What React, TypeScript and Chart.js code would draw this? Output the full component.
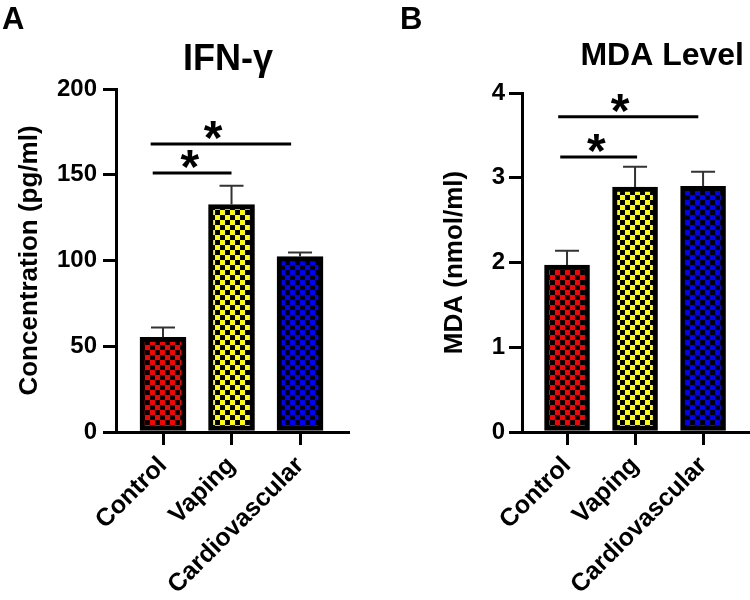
import React, { useEffect, useRef } from 'react';
import { Chart, registerables } from 'chart.js';

Chart.register(...registerables);

const FONT = "'Liberation Sans', Arial, Helvetica, sans-serif";

// ---- data ----
const CATEGORIES = ['Control', 'Vaping', 'Cardiovascular'];
const BAR_COLORS = ['#ff0000', '#ffff00', '#0000ff'];

const IFN_VALUES = [55.2, 132.6, 102.3];
const IFN_ERRORS = [5.8, 11.0, 2.4];
const IFN_TICKS = [0, 50, 100, 150, 200];
const IFN_SIG_Y = [168, 151];
const IFN_SIG_FROM = [-0.18, -0.15];
const IFN_SIG_TO = [1.87, 1.0];
const IFN_SIG_STAR = [0.73, 0.39];

const MDA_VALUES = [1.97, 2.89, 2.9];
const MDA_ERRORS = [0.17, 0.24, 0.17];
const MDA_TICKS = [0, 1, 2, 3, 4];
const MDA_SIG_Y = [3.72, 3.245];
const MDA_SIG_FROM = [-0.13, -0.1];
const MDA_SIG_TO = [1.93, 1.03];
const MDA_SIG_STAR = [0.78, 0.43];

function checker(color: string, cell = 5) {
  const c = document.createElement('canvas');
  c.width = cell * 2;
  c.height = cell * 2;
  const g = c.getContext('2d')!;
  g.fillStyle = '#000';
  g.fillRect(0, 0, cell * 2, cell * 2);
  g.fillStyle = color;
  g.fillRect(0, 0, cell, cell);
  g.fillRect(cell, cell, cell, cell);
  return g.createPattern(c, 'repeat')!;
}

type Panel = {
  letter: string;
  letterX: number;
  title: string;
  titleX: number;
  titleAlign: CanvasTextAlign;
  titleSize: number;
  titleBaseline: number;
  yTitle: string;
  values: number[];
  errors: number[];
  ticks: number[];
  sigY: number[];
  sigFrom: number[];
  sigTo: number[];
  sigStar: number[];
  xMin: number;
  xMax: number;
  barThickness: number;
  padding: { top: number; left: number; right: number; bottom: number };
  yWidth: number;
  xHeight: number;
  yTickPad: number;
};

function makePlugin(p: Panel) {
  return {
    id: 'annot_' + p.letter,
    afterDatasetsDraw(chart: any) {
      const { ctx } = chart;
      const x = chart.scales.x;
      const y = chart.scales.y;
      ctx.save();
      // error bars (upper only)
      ctx.strokeStyle = '#333';
      ctx.lineWidth = 2;
      p.values.forEach((v, i) => {
        const px = x.getPixelForValue(i);
        const y0 = y.getPixelForValue(v);
        const y1 = y.getPixelForValue(v + p.errors[i]);
        ctx.beginPath();
        ctx.moveTo(px, y0);
        ctx.lineTo(px, y1);
        ctx.moveTo(px - 12, y1);
        ctx.lineTo(px + 12, y1);
        ctx.stroke();
      });
      // significance brackets
      ctx.strokeStyle = '#000';
      ctx.lineWidth = 3;
      ctx.fillStyle = '#000';
      ctx.font = `bold 48px ${FONT}`;
      ctx.textAlign = 'center';
      ctx.textBaseline = 'alphabetic';
      const m = ctx.measureText('*');
      const mid = (m.actualBoundingBoxAscent - m.actualBoundingBoxDescent) / 2;
      p.sigY.forEach((sv, k) => {
        const py = y.getPixelForValue(sv);
        ctx.beginPath();
        ctx.moveTo(x.getPixelForValue(p.sigFrom[k]), py);
        ctx.lineTo(x.getPixelForValue(p.sigTo[k]), py);
        ctx.stroke();
        ctx.fillText('*', x.getPixelForValue(p.sigStar[k]), py - 14 + mid);
      });
      ctx.restore();
    },
    afterDraw(chart: any) {
      const { ctx } = chart;
      ctx.save();
      ctx.fillStyle = '#000';
      ctx.textBaseline = 'alphabetic';
      ctx.font = `bold 31px ${FONT}`;
      ctx.textAlign = 'left';
      ctx.fillText(p.letter, p.letterX, 29);
      ctx.font = `bold ${p.titleSize}px ${FONT}`;
      ctx.textAlign = p.titleAlign;
      ctx.fillText(p.title, p.titleX, p.titleBaseline);
      ctx.restore();
    },
  };
}

function makeChart(canvas: HTMLCanvasElement, p: Panel) {
  const tickFont = { family: FONT, size: 24, weight: 'bold' as const };
  const catFont = { family: FONT, size: 25, weight: 'bold' as const };
  return new Chart(canvas, {
    type: 'bar',
    data: {
      datasets: [
        {
          data: p.values.map((v, i) => ({ x: i, y: v })),
          backgroundColor: BAR_COLORS.map((c) => checker(c)),
          borderColor: '#000',
          borderWidth: 5,
          borderSkipped: false,
          barThickness: p.barThickness,
        } as any,
      ],
    },
    options: {
      responsive: false,
      animation: false,
      events: [],
      layout: { padding: p.padding },
      plugins: { legend: { display: false }, tooltip: { enabled: false }, title: { display: false } },
      scales: {
        x: {
          type: 'linear',
          min: p.xMin,
          max: p.xMax,
          offset: false,
          afterBuildTicks: (s: any) => {
            s.ticks = CATEGORIES.map((_, i) => ({ value: i }));
          },
          afterFit: (s: any) => {
            s.height = p.xHeight;
          },
          grid: {
            display: true,
            drawOnChartArea: false,
            drawTicks: true,
            tickLength: 13,
            color: '#000',
            lineWidth: 3,
            offset: false,
          },
          border: { display: true, color: '#000', width: 3 },
          ticks: {
            autoSkip: false,
            minRotation: 45,
            maxRotation: 45,
            padding: 6,
            color: '#000',
            font: catFont,
            callback: (v: any) => CATEGORIES[v as number] ?? '',
          },
        } as any,
        y: {
          type: 'linear',
          min: p.ticks[0],
          max: p.ticks[p.ticks.length - 1],
          afterBuildTicks: (s: any) => {
            s.ticks = p.ticks.map((v) => ({ value: v }));
          },
          afterFit: (s: any) => {
            s.width = p.yWidth;
          },
          grid: {
            display: true,
            drawOnChartArea: false,
            drawTicks: true,
            tickLength: 13,
            color: '#000',
            lineWidth: 3,
          },
          border: { display: true, color: '#000', width: 3 },
          ticks: { padding: p.yTickPad, color: '#000', font: tickFont },
          title: {
            display: true,
            text: p.yTitle,
            color: '#000',
            font: { family: FONT, size: 26, weight: 'bold' },
            padding: { top: 0, bottom: 0 },
          },
        } as any,
      },
    },
    plugins: [makePlugin(p)],
  });
}

const LEFT: Panel = {
  letter: 'A',
  letterX: 2,
  title: 'IFN-γ',
  titleX: 228,
  titleAlign: 'center',
  titleSize: 36,
  titleBaseline: 70,
  yTitle: 'Concentration (pg/ml)',
  values: IFN_VALUES,
  errors: IFN_ERRORS,
  ticks: IFN_TICKS,
  sigY: IFN_SIG_Y,
  sigFrom: IFN_SIG_FROM,
  sigTo: IFN_SIG_TO,
  sigStar: IFN_SIG_STAR,
  xMin: -0.686,
  xMax: 2.7,
  barThickness: 46,
  padding: { top: 89, left: 14, right: 27, bottom: 0 },
  yWidth: 102,
  xHeight: 168,
  yTickPad: 6,
};

const RIGHT: Panel = {
  letter: 'B',
  letterX: 25,
  title: 'MDA Level',
  titleX: 369,
  titleAlign: 'right',
  titleSize: 32,
  titleBaseline: 65,
  yTitle: 'MDA (nmol/ml)',
  values: MDA_VALUES,
  errors: MDA_ERRORS,
  ticks: MDA_TICKS,
  sigY: MDA_SIG_Y,
  sigFrom: MDA_SIG_FROM,
  sigTo: MDA_SIG_TO,
  sigStar: MDA_SIG_STAR,
  xMin: -0.662,
  xMax: 2.69,
  barThickness: 45,
  padding: { top: 93, left: 64, right: 0, bottom: 0 },
  yWidth: 83,
  xHeight: 168,
  yTickPad: 4,
};

export default function App() {
  const leftRef = useRef<HTMLCanvasElement>(null);
  const rightRef = useRef<HTMLCanvasElement>(null);

  useEffect(() => {
    const a = makeChart(leftRef.current!, LEFT);
    const b = makeChart(rightRef.current!, RIGHT);
    return () => {
      a.destroy();
      b.destroy();
    };
  }, []);

  return (
    <div style={{ position: 'fixed', left: 0, top: 0, width: 750, height: 600, background: '#fff' }}>
      <canvas ref={leftRef} width={375} height={600} style={{ position: 'absolute', left: 0, top: 0, width: 375, height: 600 }} />
      <canvas ref={rightRef} width={375} height={600} style={{ position: 'absolute', left: 375, top: 0, width: 375, height: 600 }} />
    </div>
  );
}
